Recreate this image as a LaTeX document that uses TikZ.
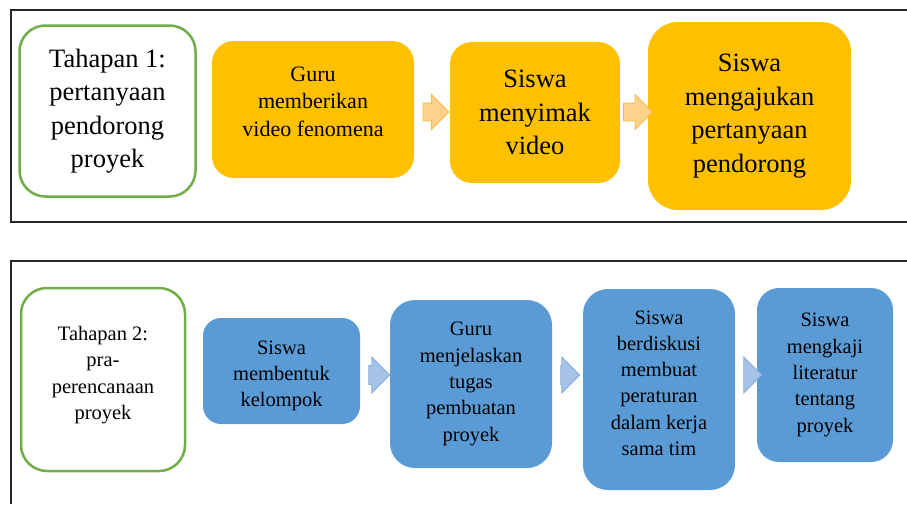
\documentclass[tikz,border=0pt]{standalone}
\usepackage{fontspec}
\setmainfont{Liberation Serif}
\usetikzlibrary{shapes.arrows, positioning}

\definecolor{stagegreen}{HTML}{70AD47}
\definecolor{taskorange}{HTML}{FFC000}
\definecolor{taskblue}{HTML}{5B9BD5}
\definecolor{arroworange}{HTML}{FFD28C}
\definecolor{arroworangeline}{HTML}{F7BB4A}
\definecolor{arrowblue}{HTML}{A5C2E7}
\definecolor{arrowblueline}{HTML}{86AEDF}

\begin{document}
\begin{tikzpicture}[
    x=1pt, y=-1pt,
    frame/.style={draw=black!85, line width=1.2pt},
    stage/.style={rectangle, draw=stagegreen, line width=2.5pt, fill=white, rounded corners=26pt, align=center, inner sep=0pt},
    task/.style={rectangle, rounded corners=22pt, align=center, inner sep=0pt},
    orangetask/.style={task, fill=taskorange},
    bluetask/.style={task, fill=taskblue, font=\fontsize{20.5}{26.3}\selectfont},
    bigtext/.style={font=\fontsize{26.5}{33.5}\selectfont},
    smalltext/.style={font=\fontsize{22}{27.5}\selectfont},
    flow/.style={single arrow, line width=0.8pt, inner xsep=0pt},
    orangeflow/.style={flow, draw=arroworangeline, fill=arroworange, inner ysep=8.5pt, single arrow head extend=8.5pt},
    blueflow/.style={flow, draw=arrowblueline, fill=arrowblue, inner ysep=9pt, single arrow head extend=8.5pt}
]

\useasboundingbox (0,0) rectangle (907,504);

% Frames
\draw[frame] (907,10) -- (11,10) -- (11,222) -- (907,222);
\draw[frame] (907,261) -- (11,261) -- (11,504);

% Tahapan 1
\node[stage, bigtext, minimum width=176pt, minimum height=171pt] (stage1) at (107.5,111) {Tahapan 1:\\pertanyaan\\pendorong\\proyek};
\node[orangetask, smalltext, minimum width=202pt, minimum height=137pt, text depth=16pt] (guru1) at (313,109.5) {Guru\\memberikan\\video fenomena};
\node[orangetask, bigtext, minimum width=170pt, minimum height=141pt] (simak) at (535,112.5) {Siswa\\menyimak\\video};
\node[orangetask, bigtext, rounded corners=30pt, minimum width=203pt, minimum height=188pt] (ajukan) at (749.5,116) {Siswa\\mengajukan\\pertanyaan\\pendorong};

\node[orangeflow, minimum height=26pt] (a1) at (431.5,112) {};
\node[orangeflow, minimum height=29pt] (a2) at (633.5,112) {};

% Tahapan 2
\node[stage, font=\fontsize{20.5}{26.3}\selectfont, minimum width=164pt, minimum height=183pt, text depth=13pt] (stage2) at (103,379.5) {Tahapan 2:\\pra-\\perencanaan\\proyek};
\node[bluetask, rounded corners=18pt, minimum width=157pt, minimum height=106pt, text height=76pt] (kelompok) at (281.5,371) {Siswa\\membentuk\\kelompok};
\node[bluetask, rounded corners=25pt, minimum width=162pt, minimum height=168pt] (tugas) at (471,384) {Guru\\menjelaskan\\tugas\\pembuatan\\proyek};
\node[bluetask, rounded corners=25pt, minimum width=152pt, minimum height=201pt, text depth=13pt] (diskusi) at (659,389.5) {Siswa\\berdiskusi\\membuat\\peraturan\\dalam kerja\\sama tim};
\node[bluetask, rounded corners=22pt, minimum width=136pt, minimum height=174pt] (kaji) at (825,375) {Siswa\\mengkaji\\literatur\\tentang\\proyek};

\node[blueflow, minimum height=21pt] (a3) at (374.5,375) {};
\node[blueflow, minimum height=19pt] (a4) at (565.5,375) {};
\node[blueflow, minimum height=18pt] (a5) at (748,375) {};

\end{tikzpicture}
\end{document}
